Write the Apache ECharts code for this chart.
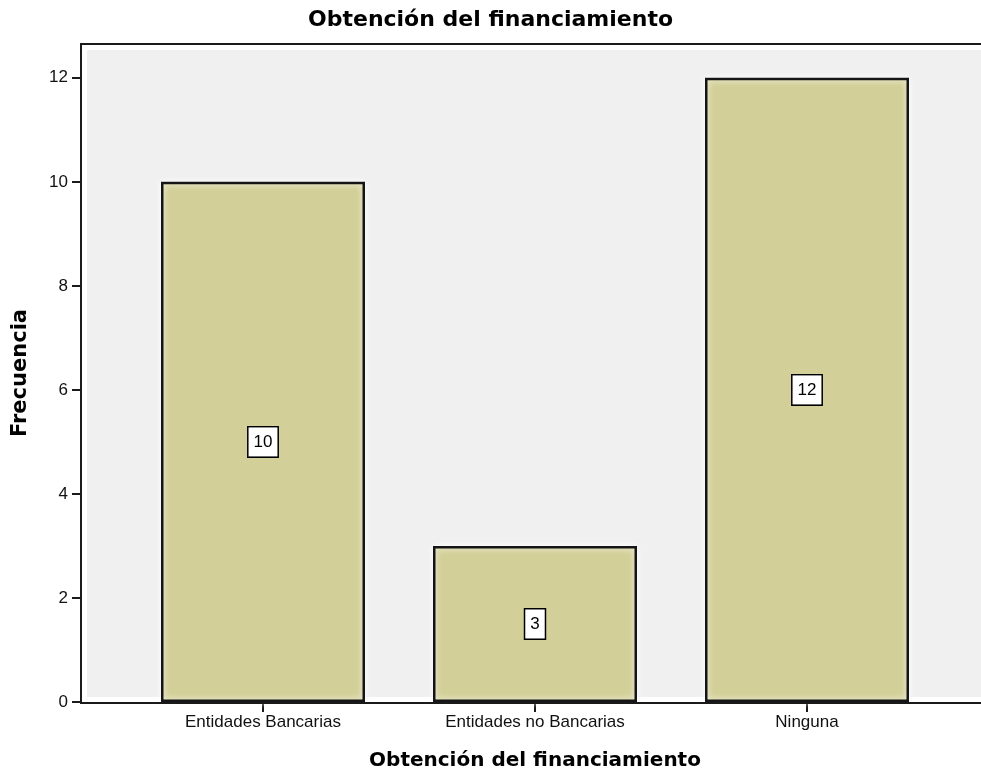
<!DOCTYPE html>
<html>
<head>
<meta charset="utf-8">
<script src="https://cdn.jsdelivr.net/npm/echarts@6/dist/echarts.min.js"></script>
<style>
  html, body { margin: 0; padding: 0; background: #fff; }
  #chart { width: 981px; height: 776px; }
</style>
</head>
<body>
<div id="chart"></div>
<script>
// datos del gráfico
var categorias = ['Entidades Bancarias', 'Entidades no Bancarias', 'Ninguna'];
var frecuencias = [10, 3, 12];
var ticksY = [0, 2, 4, 6, 8, 10, 12];

var chart = echarts.init(document.getElementById('chart'));

chart.setOption({
  animation: false,
  backgroundColor: '#ffffff',
  title: {
    text: 'Obtención del financiamiento',
    left: 'center',
    top: 4,
    textStyle: { fontFamily: 'DejaVu Sans', fontWeight: 'bold', fontSize: 22, color: '#000' }
  },
  grid: { left: 127, right: 38, top: 44, bottom: 73 },
  // fondo gris y marco del área de trazado
  graphic: [
    { type: 'rect', z: 0, silent: true, shape: { x: 87, y: 50, width: 894, height: 647 }, style: { fill: '#f0f0f0' } },
    { type: 'line', z: 10, silent: true, shape: { x1: 80, y1: 44, x2: 981, y2: 44 }, style: { stroke: '#1a1a1a', lineWidth: 2 } },
    { type: 'line', z: 10, silent: true, shape: { x1: 80, y1: 703, x2: 981, y2: 703 }, style: { stroke: '#1a1a1a', lineWidth: 2 } }
  ],
  xAxis: {
    type: 'category',
    data: categorias,
    name: 'Obtención del financiamiento',
    nameLocation: 'middle',
    nameGap: 49,
    nameTextStyle: { fontFamily: 'DejaVu Sans', fontWeight: 'bold', fontSize: 20, color: '#000' },
    axisLine: { show: false },
    axisTick: { show: true, alignWithLabel: true, length: 10, lineStyle: { color: '#1a1a1a', width: 2 } },
    axisLabel: { margin: 12, fontFamily: 'Liberation Sans', fontSize: 17, color: '#111' },
    splitLine: { show: false }
  },
  yAxis: {
    type: 'value',
    min: 0,
    max: 12.65,
    offset: 46,
    name: 'Frecuencia',
    nameLocation: 'middle',
    nameGap: 50,
    nameTextStyle: { fontFamily: 'DejaVu Sans', fontWeight: 'bold', fontSize: 21, color: '#000' },
    axisLine: { show: true, lineStyle: { color: '#1a1a1a', width: 2 } },
    axisTick: { show: true, length: 9, customValues: ticksY, lineStyle: { color: '#1a1a1a', width: 2 } },
    axisLabel: { margin: 13, customValues: ticksY, fontFamily: 'Liberation Sans', fontSize: 17, color: '#111' },
    splitLine: { show: false }
  },
  series: [{
    type: 'bar',
    data: frecuencias,
    barWidth: 204,
    itemStyle: {
      color: '#d3cf98',
      borderColor: '#151515',
      borderWidth: 2.5,
      shadowColor: '#ffffff',
      shadowBlur: 6
    },
    label: {
      show: true,
      position: 'inside',
      fontFamily: 'Liberation Sans',
      fontSize: 17,
      color: '#000',
      backgroundColor: '#ffffff',
      borderColor: '#000',
      borderWidth: 1.5,
      padding: [7, 5, 5, 5]
    }
  }]
});
</script>
</body>
</html>
